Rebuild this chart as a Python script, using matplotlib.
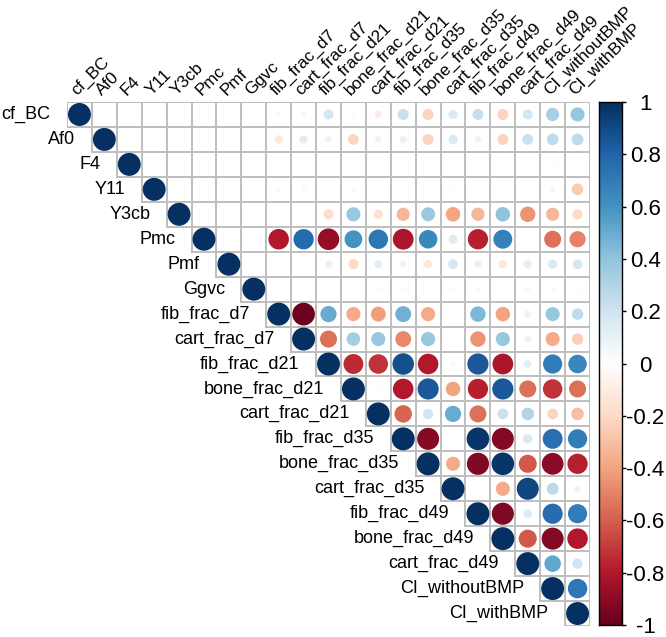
import numpy as np
import matplotlib
matplotlib.use("Agg")
import matplotlib.pyplot as plt
from matplotlib.colors import LinearSegmentedColormap
from matplotlib.patches import Circle

# variable names (rows and columns)
var_names = ["cf_BC", "Af0", "F4", "Y11", "Y3cb", "Pmc", "Pmf", "Ggvc",
             "fib_frac_d7", "cart_frac_d7", "fib_frac_d21", "bone_frac_d21",
             "cart_frac_d21", "fib_frac_d35", "bone_frac_d35", "cart_frac_d35",
             "fib_frac_d49", "bone_frac_d49", "cart_frac_d49",
             "CI_withoutBMP", "CI_withBMP"]

# upper triangle, each row lists correlations with the columns to its right
r_cf_BC = [0, 0, 0, 0, 0, 0, 0,
           0.05, -0.05, 0.19, -0.03, -0.1, 0.23, -0.23, 0.16, 0.23, -0.23, 0.19, 0.33, 0.38]
r_Af0 = [0, 0, 0, 0, 0, 0,
         -0.13, 0.13, 0.08, -0.22, 0.08, 0.1, -0.23, 0.16, 0.08, -0.23, 0.22, 0.26, 0.26]
r_F4 = [0, 0, 0, 0, 0,
        0.02, -0.02, -0.03, 0.0, -0.02, -0.02, 0.0, 0.0, 0.01, -0.01, 0.02, 0.03, 0.01]
r_Y11 = [0, 0, 0, 0,
         0.04, -0.04, -0.01, -0.04, -0.01, -0.02, 0.0, 0.03, 0.01, -0.01, 0.03, 0.06, -0.26]
r_Y3cb = [0, 0, 0,
          -0.01, 0.01, -0.19, 0.38, -0.16, -0.33, 0.37, -0.4, -0.33, 0.4, -0.45, -0.33, -0.2]
r_Pmc = [0, 0,
         -0.8, 0.78, -0.88, 0.6, 0.72, -0.82, 0.65, 0.15, -0.78, 0.68, 0.02, -0.55, -0.5]
r_Pmf = [0,
         -0.03, 0.03, 0.1, -0.2, 0.13, 0.08, -0.13, 0.18, 0.1, -0.13, 0.13, 0.16, 0.18]
r_Ggvc = [-0.01, 0.01, 0.03, -0.02, 0.03, 0.03, -0.01, 0.03, 0.04, -0.02, 0.04, 0.04, 0.03]
r_fib_d7 = [-0.98, 0.5, -0.38, -0.42, 0.48, -0.38, -0.01, 0.45, -0.4, 0.09, 0.38, 0.25]
r_cart_d7 = [-0.55, 0.35, 0.38, -0.48, 0.38, 0.01, -0.45, 0.38, -0.09, -0.38, -0.25]
r_fib_d21 = [-0.75, -0.72, 0.88, -0.8, -0.05, 0.85, -0.82, 0.12, 0.7, 0.65]
r_bone_d21 = [0.03, -0.8, 0.85, -0.4, -0.78, 0.85, -0.55, -0.72, -0.55]
r_cart_d21 = [-0.58, 0.2, 0.5, -0.55, 0.22, 0.3, -0.22, -0.3]
r_fib_d35 = [-0.92, 0.02, 0.97, -0.92, 0.17, 0.75, 0.7]
r_bone_d35 = [-0.38, -0.93, 0.97, -0.62, -0.9, -0.78]
r_cart_d35 = [0.02, -0.38, 0.92, 0.27, 0.08]
r_fib_d49 = [-0.93, 0.15, 0.77, 0.7]
r_bone_d49 = [-0.62, -0.92, -0.8]
r_cart_d49 = [0.52, 0.2]
r_CI_without = [0.72]

upper_rows = [r_cf_BC, r_Af0, r_F4, r_Y11, r_Y3cb, r_Pmc, r_Pmf, r_Ggvc,
              r_fib_d7, r_cart_d7, r_fib_d21, r_bone_d21, r_cart_d21,
              r_fib_d35, r_bone_d35, r_cart_d35, r_fib_d49, r_bone_d49,
              r_cart_d49, r_CI_without, []]

cbar_ticks = [-1, -0.8, -0.6, -0.4, -0.2, 0, 0.2, 0.4, 0.6, 0.8, 1]
cbar_labels = ["-1", "-0.8", "-0.6", "-0.4", "-0.2", "0", "0.2", "0.4", "0.6", "0.8", "1"]

# build symmetric matrix
n = len(var_names)
corr = np.eye(n)
for i, row in enumerate(upper_rows):
    for k, v in enumerate(row):
        corr[i, i + 1 + k] = v
        corr[i + 1 + k, i] = v

plt.rcParams['font.family'] = ['Liberation Sans', 'DejaVu Sans']

# corrplot RdBu palette
cmap = LinearSegmentedColormap.from_list("corrRdBu", [
    "#67001F", "#B2182B", "#D6604D", "#F4A582", "#FDDBC7", "#FFFFFF",
    "#D1E5F0", "#92C5DE", "#4393C3", "#2166AC", "#053061"])

fig = plt.figure(figsize=(6.66, 6.37), dpi=100)
W, H = 666, 637
ax = fig.add_axes([67 / W, 1 - 626 / H, 523 / W, 524 / H])
ax.set_xlim(-0.5, n - 0.5)
ax.set_ylim(n - 0.5, -0.5)
ax.axis('off')

# grid lines on the upper triangle only
grid_col = "#BEBEBE"
for k in range(n + 1):
    x0 = max(k - 1, 0) - 0.5
    ax.plot([x0, n - 0.5], [k - 0.5, k - 0.5], color=grid_col, lw=1.4,
            solid_capstyle='projecting', zorder=1)
    y1 = min(k, n - 1) + 0.5
    ax.plot([k - 0.5, k - 0.5], [-0.5, y1], color=grid_col, lw=1.4,
            solid_capstyle='projecting', zorder=1)

# circles
for i in range(n):
    for j in range(i, n):
        v = corr[i, j]
        if v == 0:
            continue
        rad = 0.46 * np.sqrt(abs(v))
        ax.add_patch(Circle((j, i), rad, facecolor=cmap((v + 1) / 2),
                            edgecolor='none', zorder=2))

# row labels
for i, name in enumerate(var_names):
    ax.text(i - 0.5 - 0.66, i, name, ha='right', va='center', fontsize=13,
            clip_on=False)

# column labels
for j, name in enumerate(var_names):
    ax.text(j - 0.1, -0.5 - 0.26, name, ha='left', va='baseline',
            rotation=45, rotation_mode='anchor', fontsize=12.3, clip_on=False)

# colour bar
cax = fig.add_axes([599 / W, 1 - 625 / H, 23 / W, 523 / H])
grad = np.linspace(-1, 1, 256).reshape(-1, 1)
cax.imshow(grad, cmap=cmap, vmin=-1, vmax=1, aspect='auto', origin='lower',
           extent=[0, 1, -1, 1])
cax.set_xticks([])
cax.yaxis.tick_right()
cax.set_yticks(cbar_ticks)
cax.set_yticklabels(cbar_labels, fontsize=16)
cax.tick_params(axis='y', length=3, width=1, pad=14)
for lbl in cax.get_yticklabels():
    lbl.set_horizontalalignment('center')
for sp in cax.spines.values():
    sp.set_linewidth(1)

fig.savefig("out.png", dpi=100)
